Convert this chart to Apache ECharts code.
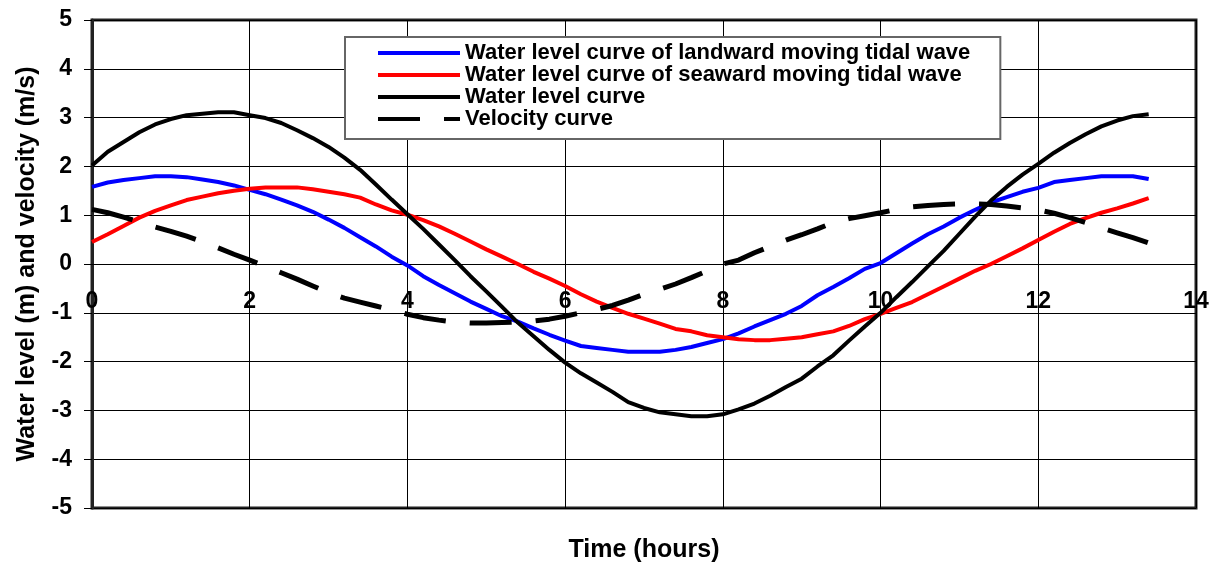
<!doctype html>
<html>
<head>
  <meta charset="utf-8">
  <title>Tidal water level and velocity</title>
  <script src="https://cdn.jsdelivr.net/npm/echarts@6/dist/echarts.min.js"></script>
  <style>
    html, body { margin: 0; padding: 0; background: #fff; }
    #chart { width: 1215px; height: 564px; }
  </style>
</head>
<body>
<div id="chart"></div>
<script type="text/javascript">
// time axis (hours)
var hours = [0, 0.2, 0.4, 0.6, 0.8, 1.0, 1.2, 1.4, 1.6, 1.8,
  2.0, 2.2, 2.4, 2.6, 2.8, 3.0, 3.2, 3.4, 3.6, 3.8,
  4.0, 4.2, 4.4, 4.6, 4.8, 5.0, 5.2, 5.4, 5.6, 5.8,
  6.0, 6.2, 6.4, 6.6, 6.8, 7.0, 7.2, 7.4, 7.6, 7.8,
  8.0, 8.2, 8.4, 8.6, 8.8, 9.0, 9.2, 9.4, 9.6, 9.8,
  10.0, 10.2, 10.4, 10.6, 10.8, 11.0, 11.2, 11.4, 11.6, 11.8,
  12.0, 12.2, 12.4, 12.6, 12.8, 13.0, 13.2, 13.4];

// water level of landward moving tidal wave (m)
var landward = [1.58, 1.67, 1.72, 1.76, 1.80, 1.80, 1.78, 1.73, 1.68, 1.61,
  1.52, 1.43, 1.32, 1.20, 1.07, 0.91, 0.74, 0.55, 0.36, 0.15,
  -0.03, -0.25, -0.43, -0.60, -0.77, -0.92, -1.07, -1.18, -1.32, -1.45,
  -1.57, -1.68, -1.72, -1.76, -1.80, -1.80, -1.80, -1.76, -1.70, -1.62,
  -1.54, -1.42, -1.28, -1.15, -1.02, -0.86, -0.64, -0.47, -0.29, -0.10,
  0.02, 0.22, 0.42, 0.61, 0.77, 0.95, 1.11, 1.26, 1.37, 1.48,
  1.56, 1.68, 1.72, 1.76, 1.80, 1.80, 1.80, 1.74];

// water level of seaward moving tidal wave (m)
var seaward = [0.45, 0.61, 0.78, 0.95, 1.09, 1.20, 1.31, 1.38, 1.45, 1.50,
  1.54, 1.57, 1.57, 1.57, 1.53, 1.48, 1.43, 1.36, 1.22, 1.10,
  1.01, 0.90, 0.77, 0.62, 0.46, 0.30, 0.15, 0.00, -0.16, -0.30,
  -0.45, -0.62, -0.77, -0.90, -1.02, -1.12, -1.22, -1.33, -1.38, -1.46,
  -1.50, -1.54, -1.56, -1.56, -1.53, -1.50, -1.44, -1.38, -1.27, -1.13,
  -1.02, -0.90, -0.78, -0.62, -0.46, -0.30, -0.14, 0.00, 0.16, 0.32,
  0.49, 0.66, 0.82, 0.94, 1.05, 1.14, 1.24, 1.35];

// total water level (m)
var waterLevel = [2.02, 2.30, 2.50, 2.70, 2.86, 2.97, 3.05, 3.08, 3.11, 3.11,
  3.05, 2.99, 2.89, 2.74, 2.58, 2.40, 2.18, 1.93, 1.63, 1.32,
  1.02, 0.72, 0.40, 0.08, -0.25, -0.56, -0.88, -1.20, -1.48, -1.76,
  -2.02, -2.24, -2.43, -2.62, -2.83, -2.95, -3.04, -3.08, -3.12, -3.12,
  -3.08, -2.98, -2.86, -2.70, -2.52, -2.35, -2.10, -1.87, -1.57, -1.28,
  -1.00, -0.68, -0.37, -0.05, 0.27, 0.62, 0.97, 1.30, 1.58, 1.83,
  2.05, 2.28, 2.48, 2.66, 2.82, 2.94, 3.03, 3.07];

// velocity (m/s)
var velocity = [1.12, 1.05, 0.96, 0.86, 0.76, 0.67, 0.57, 0.46, 0.33, 0.20,
  0.08, -0.05, -0.18, -0.31, -0.45, -0.59, -0.70, -0.78, -0.86, -0.94,
  -1.03, -1.10, -1.15, -1.19, -1.21, -1.21, -1.20, -1.19, -1.17, -1.13,
  -1.07, -1.00, -0.93, -0.85, -0.74, -0.62, -0.52, -0.41, -0.28, -0.14,
  0.00, 0.08, 0.23, 0.36, 0.49, 0.60, 0.72, 0.85, 0.93, 0.99,
  1.05, 1.12, 1.17, 1.20, 1.22, 1.23, 1.23, 1.22, 1.19, 1.15,
  1.11, 1.04, 0.95, 0.85, 0.74, 0.64, 0.54, 0.43];

var names = ['Water level curve of landward moving tidal wave',
  'Water level curve of seaward moving tidal wave',
  'Water level curve',
  'Velocity curve'];

function pairs(vals) {
  var out = [];
  for (var i = 0; i < hours.length; i++) out.push([hours[i], vals[i]]);
  return out;
}

// legend keys: a solid bar and a dashed bar
var solidIcon = 'path://M0,0H82V4H0Z';
var dashIcon = 'path://M0,0H42V4H0Z M66,0H82V4H66Z';

var font = 'Arial, "Liberation Sans", sans-serif';
var chart = echarts.init(document.getElementById('chart'));

var option = {
  backgroundColor: '#fff',
  animation: false,
  grid: {
    left: 92, right: 19, top: 20, bottom: 56,
    outerBoundsMode: 'none',
    show: true, borderColor: '#222', borderWidth: 3
  },
  legend: {
    orient: 'vertical',
    left: 345, top: 37,
    data: [
      { name: names[0], icon: solidIcon },
      { name: names[1], icon: solidIcon },
      { name: names[2], icon: solidIcon },
      { name: names[3], icon: dashIcon }
    ],
    backgroundColor: '#fff',
    borderColor: '#666', borderWidth: 2, borderRadius: 0,
    padding: [5, 30, 9, 33],
    itemWidth: 82, itemHeight: 5, itemGap: 0,
    textStyle: { fontFamily: font, fontWeight: 'bold', fontSize: 22, color: '#000', lineHeight: 21.5 }
  },
  xAxis: {
    type: 'value', min: 0, max: 14, interval: 2,
    position: 'bottom', offset: -244,   // axis line sits on y = 0
    name: 'Time (hours)', nameLocation: 'middle', nameGap: 274,
    nameTextStyle: { fontFamily: font, fontWeight: 'bold', fontSize: 25, color: '#000' },
    axisLine: { onZero: false, lineStyle: { color: '#000', width: 1 } },
    axisTick: { show: false },
    axisLabel: { margin: 26, fontFamily: font, fontWeight: 'bold', fontSize: 23, color: '#000' },
    splitLine: { show: true, lineStyle: { color: '#000', width: 1 } }
  },
  yAxis: {
    type: 'value', min: -5, max: 5, interval: 1,
    name: 'Water level (m) and velocity (m/s)', nameLocation: 'middle', nameGap: 52,
    nameTextStyle: { fontFamily: font, fontWeight: 'bold', fontSize: 25, color: '#000' },
    axisLine: { show: true, onZero: false, lineStyle: { color: '#222', width: 3 } },
    axisTick: { show: true, inside: false, length: 8, lineStyle: { color: '#000', width: 1 } },
    axisLabel: { margin: 20, fontFamily: font, fontWeight: 'bold', fontSize: 23, color: '#000' },
    splitLine: { show: true, lineStyle: { color: '#000', width: 1 } }
  },
  series: [{
    name: names[0], type: 'line', symbol: 'none',
    lineStyle: { color: '#0000ff', width: 4 }, itemStyle: { color: '#0000ff' },
    data: pairs(landward)
  }, {
    name: names[1], type: 'line', symbol: 'none',
    lineStyle: { color: '#ff0000', width: 4 }, itemStyle: { color: '#ff0000' },
    data: pairs(seaward)
  }, {
    name: names[2], type: 'line', symbol: 'none',
    lineStyle: { color: '#000', width: 4 }, itemStyle: { color: '#000' },
    data: pairs(waterLevel)
  }, {
    name: names[3], type: 'line', symbol: 'none',
    lineStyle: { color: '#000', width: 5, type: [42, 24] }, itemStyle: { color: '#000' },
    data: pairs(velocity)
  }]
};
chart.setOption(option);
</script>
</body>
</html>
